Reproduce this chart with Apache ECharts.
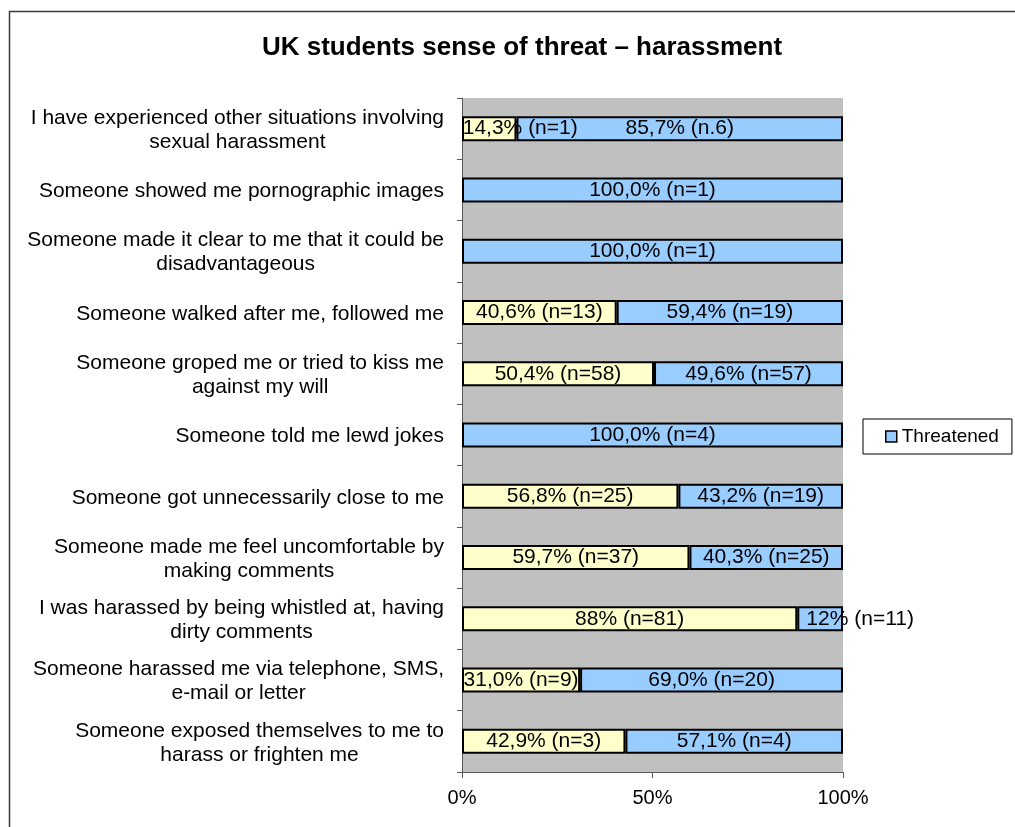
<!DOCTYPE html>
<html>
<head>
<meta charset="utf-8">
<title>UK students sense of threat – harassment</title>
<script src="https://cdn.jsdelivr.net/npm/echarts@6/dist/echarts.min.js"></script>
<style>
  html, body { margin: 0; padding: 0; background: #ffffff; }
  #chart { width: 1015px; height: 827px; }
</style>
</head>
<body>
<div id="chart"></div>
<script>
// Harassment situations, listed top to bottom
const categories = [
  'I have experienced other situations involving\nsexual harassment',
  'Someone showed me pornographic images',
  'Someone made it clear to me that it could be\ndisadvantageous',
  'Someone walked after me, followed me',
  'Someone groped me or tried to kiss me\nagainst my will',
  'Someone told me lewd jokes',
  'Someone got unnecessarily close to me',
  'Someone made me feel uncomfortable by\nmaking comments',
  'I was harassed by being whistled at, having\ndirty comments',
  'Someone harassed me via telephone, SMS,\ne-mail or letter',
  'Someone exposed themselves to me to\nharass or frighten me'
];

// Share (%) of respondents not feeling threatened / feeling threatened
const notThreatenedValues = [14.3, null, null, 40.6, 50.4, null, 56.8, 59.7, 88, 31.0, 42.9];
const threatenedValues = [85.7, 100.0, 100.0, 59.4, 49.6, 100.0, 43.2, 40.3, 12, 69.0, 57.1];

// Label text printed on each segment
const notThreatenedLabels = ['14,3% (n=1)', '', '', '40,6% (n=13)', '50,4% (n=58)', '', '56,8% (n=25)', '59,7% (n=37)', '88% (n=81)', '31,0% (n=9)', '42,9% (n=3)'];
const threatenedLabels = ['85,7% (n.6)', '100,0% (n=1)', '100,0% (n=1)', '59,4% (n=19)', '49,6% (n=57)', '100,0% (n=4)', '43,2% (n=19)', '40,3% (n=25)', '12% (n=11)', '69,0% (n=20)', '57,1% (n=4)'];

const xTicks = [0, 50, 100];

// A few labels sit to the right of their narrow segments
const labelShift = { 'n-0': [31, 0], 't-8': [40, 0] };

const FONT = '"Liberation Sans", Arial, Helvetica, sans-serif';

function buildData(values, key) {
  return values.map((v, i) => {
    const item = { value: v == null ? '-' : v };
    const shift = labelShift[key + '-' + i];
    if (shift) item.label = { offset: shift };
    return item;
  });
}

const chart = echarts.init(document.getElementById('chart'), null, { renderer: 'canvas' });

const option = {
  backgroundColor: '#ffffff',
  animation: false,
  title: {
    text: 'UK students sense of threat – harassment',
    left: 517,
    textAlign: 'center',
    top: 30,
    textStyle: { fontFamily: FONT, fontSize: 26, fontWeight: 'bold', color: '#000' }
  },
  legend: {
    data: ['Threatened'],
    left: 863,
    top: 419,
    orient: 'vertical',
    padding: [8, 13, 8, 22],
    borderColor: '#000',
    borderWidth: 1,
    itemWidth: 11,
    itemHeight: 11,
    icon: 'rect',
    itemStyle: { borderColor: '#000', borderWidth: 1.5 },
    textStyle: { fontFamily: FONT, fontSize: 19, color: '#000' }
  },
  grid: {
    left: 462,
    right: 172,
    top: 98,
    bottom: 55,
    show: true,
    backgroundColor: '#C0C0C0',
    borderWidth: 0
  },
  xAxis: {
    type: 'value',
    min: 0,
    max: 100,
    interval: 50,
    splitLine: { show: false },
    axisLine: { show: true, lineStyle: { color: '#5a5a5a', width: 1 } },
    axisTick: { show: true, length: 6, lineStyle: { color: '#5a5a5a' } },
    axisLabel: {
      margin: 16,
      fontFamily: FONT,
      fontSize: 20,
      color: '#000',
      formatter: v => (xTicks.indexOf(v) >= 0 ? v + '%' : '')
    }
  },
  yAxis: {
    type: 'category',
    inverse: true,
    data: categories,
    axisLine: { show: true, lineStyle: { color: '#5a5a5a', width: 1 } },
    axisTick: { show: true, length: 5, lineStyle: { color: '#5a5a5a' } },
    axisLabel: {
      margin: 18,
      align: 'right',
      formatter: v => '{c|' + v + '}',
      rich: {
        c: { fontFamily: FONT, fontSize: 21, lineHeight: 24, align: 'center', color: '#000', padding: [3, 0, 0, 0] }
      }
    }
  },
  series: [
    {
      name: 'Not threatened',
      type: 'bar',
      stack: 'share',
      barWidth: 25,
      data: buildData(notThreatenedValues, 'n'),
      itemStyle: { color: '#FFFFCC', borderColor: '#000', borderWidth: 2 },
      label: {
        show: true,
        position: 'inside',
        fontFamily: FONT,
        fontSize: 21,
        color: '#000',
        formatter: p => notThreatenedLabels[p.dataIndex]
      }
    },
    {
      name: 'Threatened',
      type: 'bar',
      stack: 'share',
      barWidth: 25,
      data: buildData(threatenedValues, 't'),
      itemStyle: { color: '#99CCFF', borderColor: '#000', borderWidth: 2 },
      label: {
        show: true,
        position: 'inside',
        fontFamily: FONT,
        fontSize: 21,
        color: '#000',
        formatter: p => threatenedLabels[p.dataIndex]
      }
    }
  ],
  graphic: [
    {
      type: 'rect',
      left: 7,
      top: 9,
      shape: { width: 1100, height: 900 },
      style: { fill: 'none', stroke: '#3a3a3a', lineWidth: 1.5 },
      silent: true
    }
  ]
};

chart.setOption(option);
</script>
</body>
</html>
